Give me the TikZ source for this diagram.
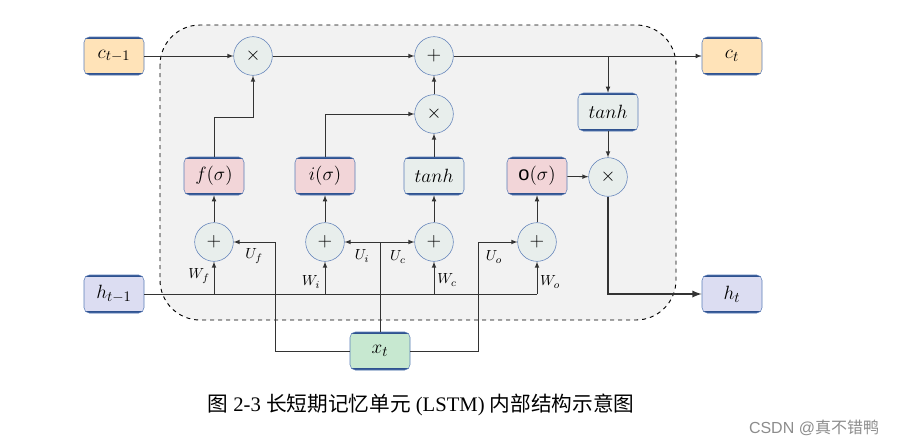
\documentclass[tikz,border=0pt]{standalone}
\usepackage{fontspec}
\setmainfont{Liberation Serif}
\setsansfont{Liberation Sans}
\newfontfamily\cjk{Noto Sans CJK SC}
\definecolor{cfill}{HTML}{FFE3B8}
\definecolor{hfill}{HTML}{DCDDF2}
\definecolor{xfill}{HTML}{C7E8D0}
\definecolor{gatefill}{HTML}{F2D5D8}
\definecolor{opfill}{HTML}{E8EEEC}
\definecolor{bggray}{HTML}{F2F2F2}
\definecolor{edgeblue}{HTML}{5B7DB8}
\definecolor{rimblue}{HTML}{2F528F}
\tikzset{
  cell/.style={draw=edgeblue, rounded corners=4pt, minimum width=45pt, minimum height=28.5pt,
    inner sep=0pt, font=\fontsize{15}{17}\selectfont,
    path picture={\draw[rimblue, line width=2.4pt]
      (path picture bounding box.north west) -- (path picture bounding box.north east)
      (path picture bounding box.south west) -- (path picture bounding box.south east);}},
  op/.style={circle, draw=edgeblue, fill=opfill, minimum size=29pt, inner sep=0pt,
    font=\fontsize{15}{17}\selectfont},
  wire/.style={draw=black!80, line width=0.6pt, >=latex},
  lbl/.style={font=\fontsize{11}{13}\selectfont}
}
\begin{document}
\begin{tikzpicture}[x=0.75pt, y=-0.75pt]
\useasboundingbox (0,0) rectangle (898,446);
% cell body
\draw[dashed, line width=0.7pt, fill=bggray, rounded corners=30pt] (160,25) rectangle (676,320);

% states and input
\node[cell, fill=cfill] (cprev) at (114,56) {$c_{t-1}$};
\node[cell, fill=cfill] (cnext) at (732,56) {$c_t$};
\node[cell, fill=hfill] (hprev) at (114,294) {$h_{t-1}$};
\node[cell, fill=hfill] (hnext) at (732,294) {$h_t$};
\node[cell, fill=xfill] (xin) at (380,351) {$x_t$};

% gates
\node[cell, fill=gatefill] (fgate) at (214,176) {$f(\sigma)$};
\node[cell, fill=gatefill] (igate) at (325,176) {$i(\sigma)$};
\node[cell, fill=opfill] (ggate) at (434,176) {$tanh$};
\node[cell, fill=gatefill] (ogate) at (537,176) {\textsf{o}$(\sigma)$};
\node[cell, fill=opfill] (tanhc) at (608,112) {$tanh$};

% operators
\node[op] (mulf) at (253,56) {$\times$};
\node[op] (addc) at (434,56) {$+$};
\node[op] (muli) at (434,114) {$\times$};
\node[op] (mulo) at (608,177) {$\times$};
\foreach \n/\x in {addf/214, addi/325, addg/434, addo/537}
  \node[op] (\n) at (\x,242) {$+$};

% cell state path
\draw[wire,->] (cprev) -- (mulf);
\draw[wire,->] (mulf) -- (addc);
\draw[wire,->] (addc) -- (cnext);
\coordinate (split) at (tanhc |- addc);
\draw[wire,->] (split) -- (tanhc);
\draw[wire,->] (tanhc) -- (mulo);
\draw[wire,->] (ogate) -- (mulo);
\draw[wire,->,line width=1.4pt] (mulo) |- (hnext);

% gate outputs
\draw[wire,->] (fgate) -- (fgate |- 0,117) -| (mulf);
\draw[wire,->] (igate) |- (muli);
\draw[wire,->] (ggate) -- (muli);
\draw[wire,->] (muli) -- (addc);
\foreach \a/\g in {addf/fgate, addi/igate, addg/ggate, addo/ogate}
  \draw[wire,->] (\a) -- (\g);

% h_{t-1} inputs
\draw[wire] (hprev) -- (hprev -| addo);
\foreach \a in {addf, addi, addg, addo}
  \draw[wire,->] (\a |- hprev) -- (\a);

% x_t inputs
\coordinate (xsplit) at (xin |- addi);
\coordinate (uf) at (275,242);
\coordinate (uo) at (478,242);
\draw[wire] (xin) -- (xsplit);
\draw[wire,->] (xsplit) -- (addi);
\draw[wire,->] (xsplit) -- (addg);
\draw[wire,->] (xin) -| (uf) -- (addf);
\draw[wire,->] (xin) -| (uo) -- (addo);

% weight labels
\node[lbl] (wf) at (199,276) {$W_f$};
\node[lbl] (wi) at (311,282) {$W_i$};
\node[lbl] (wc) at (447,280) {$W_c$};
\node[lbl] (wo) at (550,282) {$W_o$};
\node[lbl] (uflbl) at (254,256) {$U_f$};
\node[lbl] (uilbl) at (362,256) {$U_i$};
\node[lbl] (uclbl) at (398,257) {$U_c$};
\node[lbl] (uolbl) at (494,257) {$U_o$};

% caption
\node[font=\fontsize{15.5}{18}\selectfont] (caption) at (421,405)
  {{\cjk 图} 2-3 {\cjk 长短期记忆单元} (LSTM) {\cjk 内部结构示意图}};
\node[font=\sffamily\fontsize{12}{14}\selectfont, text=black!45] (mark) at (814,428)
  {CSDN @{\cjk 真不错鸭}};
\end{tikzpicture}
\end{document}
